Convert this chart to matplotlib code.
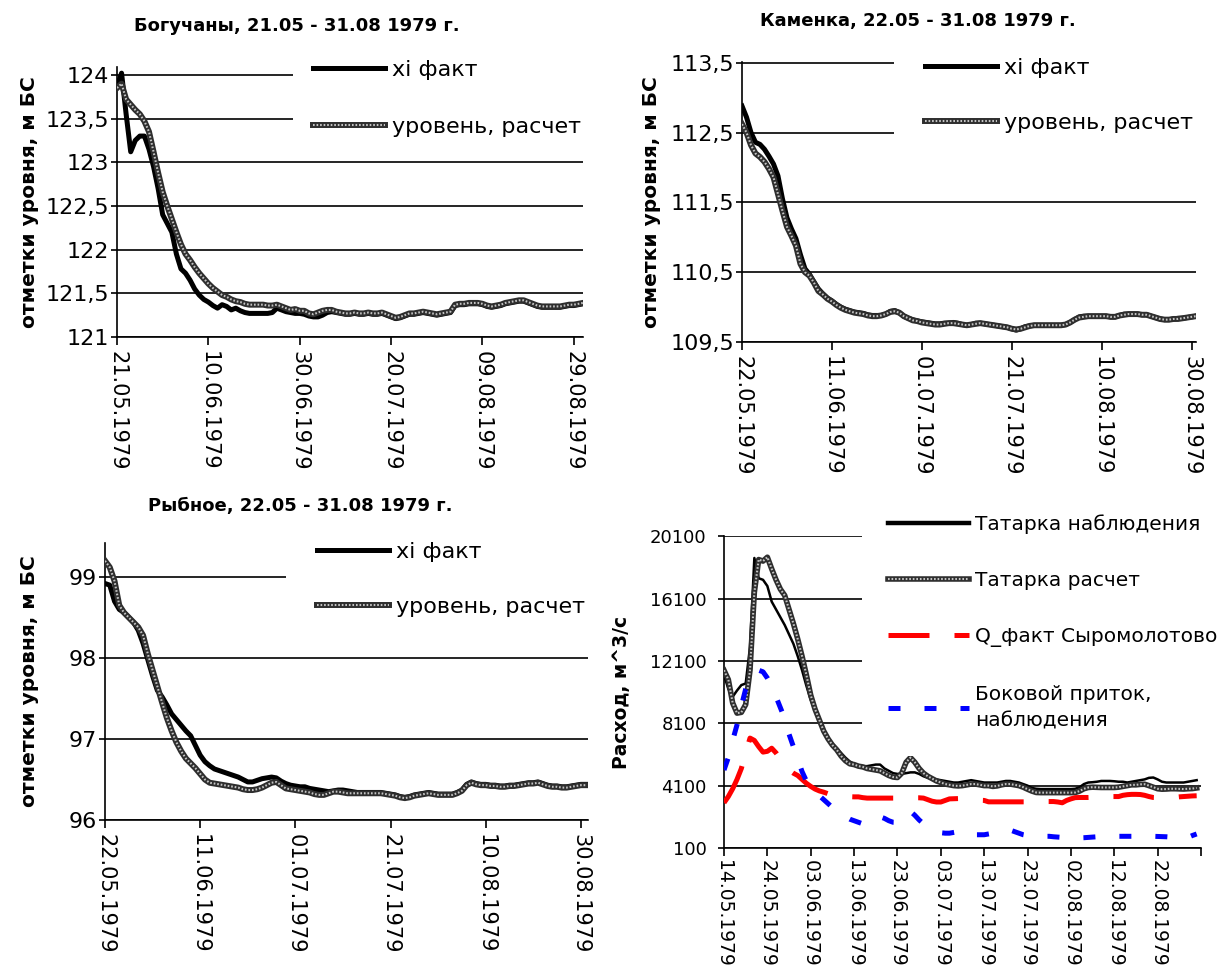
import matplotlib
matplotlib.use("Agg")
import matplotlib.pyplot as plt

plt.rcParams['font.family'] = ['DejaVu Sans']

W, H = 1220, 974

# ---------------- data ----------------
# Богучаны, 21.05 - 31.08.1979 (daily, m BS)
bog_dates = ['21.05.1979', '10.06.1979', '30.06.1979', '20.07.1979', '09.08.1979', '29.08.1979']
bog_yticks = [121, 121.5, 122, 122.5, 123, 123.5, 124]
bog_ylabels = ['121', '121,5', '122', '122,5', '123', '123,5', '124']
bog_fact = [
    123.87, 124.02, 123.55, 123.12, 123.25, 123.30, 123.30, 123.15, 122.95, 122.70,
    122.40, 122.30, 122.20, 121.95, 121.78, 121.73, 121.65, 121.55, 121.48, 121.43,
    121.40, 121.36, 121.33, 121.37, 121.35, 121.31, 121.33, 121.30, 121.28, 121.27,
    121.27, 121.27, 121.27, 121.27, 121.28, 121.33, 121.31, 121.29, 121.28, 121.27,
    121.27, 121.26, 121.24, 121.23, 121.23, 121.25, 121.28, 121.29, 121.28, 121.27,
    121.26, 121.26, 121.27, 121.26, 121.26, 121.27, 121.26, 121.26, 121.27, 121.25,
    121.23, 121.21, 121.22, 121.24, 121.26, 121.26, 121.27, 121.28, 121.27, 121.26,
    121.25, 121.26, 121.27, 121.28, 121.36, 121.37, 121.37, 121.38, 121.38, 121.38,
    121.37, 121.35, 121.34, 121.35, 121.36, 121.38, 121.39, 121.40, 121.41, 121.41,
    121.39, 121.37, 121.35, 121.34, 121.34, 121.34, 121.34, 121.34, 121.35, 121.36,
    121.36, 121.37, 121.38]
bog_calc = [
    123.85, 123.90, 123.72, 123.66, 123.60, 123.55, 123.47, 123.35, 123.12, 122.88,
    122.66, 122.50, 122.35, 122.20, 122.06, 121.95, 121.88, 121.80, 121.73, 121.67,
    121.61, 121.56, 121.52, 121.48, 121.46, 121.43, 121.41, 121.40, 121.38, 121.37,
    121.37, 121.37, 121.37, 121.36, 121.36, 121.37, 121.35, 121.33, 121.31, 121.32,
    121.30, 121.30, 121.27, 121.26, 121.28, 121.30, 121.31, 121.31, 121.29, 121.28,
    121.27, 121.27, 121.28, 121.27, 121.27, 121.28, 121.27, 121.27, 121.28, 121.26,
    121.24, 121.22, 121.23, 121.25, 121.27, 121.27, 121.28, 121.29, 121.28, 121.27,
    121.26, 121.27, 121.28, 121.29, 121.37, 121.38, 121.38, 121.39, 121.39, 121.39,
    121.38, 121.36, 121.35, 121.36, 121.37, 121.39, 121.40, 121.41, 121.42, 121.42,
    121.40, 121.38, 121.36, 121.35, 121.35, 121.35, 121.35, 121.35, 121.36, 121.37,
    121.37, 121.38, 121.39]

# Каменка, 22.05 - 31.08.1979
kam_dates = ['22.05.1979', '11.06.1979', '01.07.1979', '21.07.1979', '10.08.1979', '30.08.1979']
kam_yticks = [109.5, 110.5, 111.5, 112.5, 113.5]
kam_ylabels = ['109,5', '110,5', '111,5', '112,5', '113,5']
kam_fact = [
    112.88, 112.72, 112.50, 112.36, 112.33, 112.26, 112.16, 112.05, 111.88, 111.55,
    111.28, 111.12, 110.98, 110.75, 110.55, 110.47, 110.36, 110.26, 110.19, 110.13,
    110.09, 110.04, 110.00, 109.97, 109.95, 109.93, 109.92, 109.91, 109.89, 109.88,
    109.88, 109.88, 109.90, 109.94, 109.95, 109.92, 109.87, 109.84, 109.82, 109.80,
    109.79, 109.78, 109.77, 109.76, 109.76, 109.77, 109.77, 109.78, 109.77, 109.75,
    109.74, 109.75, 109.77, 109.77, 109.76, 109.75, 109.74, 109.73, 109.72, 109.71,
    109.69, 109.67, 109.69, 109.72, 109.73, 109.74, 109.74, 109.74, 109.74, 109.74,
    109.74, 109.74, 109.75, 109.78, 109.82, 109.86, 109.87, 109.87, 109.87, 109.87,
    109.87, 109.87, 109.86, 109.86, 109.88, 109.90, 109.90, 109.90, 109.90, 109.89,
    109.89, 109.87, 109.85, 109.83, 109.82, 109.82, 109.83, 109.84, 109.84, 109.85,
    109.86, 109.87]
kam_calc = [
    112.62, 112.50, 112.32, 112.20, 112.15, 112.08, 111.98, 111.86, 111.62, 111.38,
    111.15, 111.02, 110.88, 110.62, 110.50, 110.45, 110.35, 110.23, 110.18, 110.12,
    110.08, 110.03, 109.99, 109.96, 109.94, 109.92, 109.91, 109.90, 109.88, 109.87,
    109.87, 109.88, 109.90, 109.93, 109.94, 109.92, 109.87, 109.84, 109.81, 109.80,
    109.78, 109.77, 109.76, 109.75, 109.75, 109.76, 109.77, 109.77, 109.76, 109.75,
    109.74, 109.75, 109.76, 109.77, 109.76, 109.75, 109.74, 109.73, 109.72, 109.71,
    109.69, 109.68, 109.69, 109.71, 109.73, 109.74, 109.74, 109.74, 109.74, 109.74,
    109.74, 109.74, 109.75, 109.78, 109.82, 109.85, 109.86, 109.87, 109.87, 109.87,
    109.87, 109.87, 109.86, 109.86, 109.88, 109.89, 109.90, 109.90, 109.90, 109.89,
    109.89, 109.87, 109.85, 109.83, 109.82, 109.82, 109.83, 109.83, 109.84, 109.85,
    109.86, 109.87]

# Рыбное, 22.05 - 31.08.1979
ryb_dates = ['22.05.1979', '11.06.1979', '01.07.1979', '21.07.1979', '10.08.1979', '30.08.1979']
ryb_yticks = [96, 97, 98, 99]
ryb_ylabels = ['96', '97', '98', '99']
ryb_fact = [
    98.92, 98.90, 98.70, 98.60, 98.56, 98.50, 98.44, 98.34, 98.18, 97.98,
    97.78, 97.60, 97.52, 97.42, 97.31, 97.24, 97.17, 97.10, 97.04, 96.92,
    96.80, 96.72, 96.67, 96.63, 96.61, 96.59, 96.57, 96.55, 96.53, 96.50,
    96.47, 96.47, 96.49, 96.51, 96.52, 96.53, 96.52, 96.48, 96.45, 96.43,
    96.42, 96.41, 96.41, 96.39, 96.38, 96.37, 96.36, 96.35, 96.36, 96.37,
    96.37, 96.36, 96.35, 96.34, 96.34, 96.34, 96.34, 96.34, 96.34, 96.33,
    96.32, 96.31, 96.29, 96.28, 96.29, 96.31, 96.32, 96.33, 96.34, 96.33,
    96.32, 96.32, 96.32, 96.32, 96.34, 96.37, 96.44, 96.47, 96.45, 96.44,
    96.44, 96.43, 96.43, 96.42, 96.42, 96.43, 96.43, 96.44, 96.45, 96.46,
    96.46, 96.47, 96.45, 96.43, 96.42, 96.42, 96.41, 96.41, 96.42, 96.43,
    96.44, 96.44]
ryb_calc = [
    99.20, 99.12, 98.95, 98.65, 98.56, 98.50, 98.44, 98.38, 98.28, 98.05,
    97.85, 97.65, 97.45, 97.26, 97.10, 96.96, 96.85, 96.76, 96.70, 96.64,
    96.57, 96.50, 96.46, 96.45, 96.44, 96.43, 96.42, 96.41, 96.40, 96.38,
    96.37, 96.37, 96.38, 96.40, 96.43, 96.46, 96.47, 96.43, 96.39, 96.38,
    96.37, 96.36, 96.35, 96.34, 96.32, 96.31, 96.31, 96.33, 96.35, 96.35,
    96.34, 96.33, 96.33, 96.33, 96.33, 96.33, 96.33, 96.33, 96.33, 96.32,
    96.31, 96.30, 96.28, 96.27, 96.28, 96.30, 96.31, 96.32, 96.33, 96.32,
    96.31, 96.31, 96.31, 96.31, 96.33, 96.36, 96.43, 96.46, 96.44, 96.43,
    96.43, 96.42, 96.42, 96.41, 96.41, 96.42, 96.42, 96.43, 96.44, 96.45,
    96.45, 96.46, 96.44, 96.42, 96.41, 96.41, 96.40, 96.40, 96.41, 96.42,
    96.43, 96.43]

# Татарка, 14.05 - 31.08.1979, discharge m^3/s
tat_dates = ['14.05.1979', '24.05.1979', '03.06.1979', '13.06.1979', '23.06.1979', '03.07.1979',
             '13.07.1979', '23.07.1979', '02.08.1979', '12.08.1979', '22.08.1979']
tat_yticks = [100, 4100, 8100, 12100, 16100, 20100]
tat_obs = [
    11200, 10300, 9800, 10200, 10550, 10650, 13000, 18700, 17400, 17300,
    16900, 15900, 15400, 14900, 14400, 13800, 13200, 12400, 11500, 10500,
    9600, 8900, 8300, 7700, 7200, 6800, 6500, 6200, 5900, 5650,
    5500, 5400, 5350, 5350, 5400, 5450, 5450, 5200, 5050, 4900,
    4850, 4850, 4900, 4950, 4950, 4850, 4700, 4600, 4550, 4500,
    4450, 4400, 4350, 4300, 4300, 4350, 4400, 4450, 4400, 4350,
    4300, 4300, 4300, 4300, 4350, 4400, 4400, 4350, 4300, 4200,
    4100, 3950, 3900, 3880, 3880, 3880, 3880, 3880, 3880, 3880,
    3880, 3900, 4000, 4200, 4300, 4320, 4350, 4400, 4400, 4400,
    4380, 4350, 4350, 4300, 4350, 4400, 4450, 4500, 4600, 4620,
    4500, 4350, 4300, 4300, 4300, 4300, 4300, 4350, 4400, 4450]
tat_calc = [
    11500, 10900, 9400, 8750, 8800, 9300, 11500, 16500, 18600, 18500,
    18750, 18000, 17300, 16700, 16300, 15400, 14500, 13500, 12400, 11200,
    9900, 9000, 8300, 7600, 7100, 6700, 6400, 6000, 5700, 5500,
    5450, 5350, 5300, 5200, 5150, 5100, 5050, 4900, 4750, 4650,
    4620, 4900, 5600, 5900, 5600, 5200, 4900, 4700, 4550, 4400,
    4300, 4200, 4150, 4100, 4080, 4100, 4150, 4200, 4200, 4150,
    4100, 4100, 4050, 4080, 4150, 4200, 4200, 4150, 4100, 4000,
    3870, 3750, 3660, 3650, 3650, 3650, 3650, 3650, 3650, 3650,
    3650, 3660, 3750, 3900, 3980, 4000, 3990, 3980, 3980, 3980,
    3980, 4000, 4050, 4100, 4150, 4150, 4180, 4190, 4100, 4000,
    3900, 3870, 3880, 3900, 3900, 3890, 3880, 3900, 3910, 3950]
syr_fact = [
    3000, 3400, 3900, 4500, 5200, 6200, 7150, 7000, 6600, 6250,
    6300, 6500, 6200, 5800, 5400, 5100, 4900, 4750, 4500, 4250,
    4050, 3880, 3760, 3680, 3580, 3530, 3480, 3440, 3410, 3390,
    3380, 3380, 3330, 3300, 3300, 3300, 3300, 3300, 3300, 3300,
    3300, 3300, 3300, 3310, 3320, 3320, 3300, 3200, 3100, 3050,
    3050, 3150, 3250, 3260, 3270, 3270, 3250, 3200, 3180, 3160,
    3150, 3060, 3060, 3060, 3060, 3060, 3060, 3060, 3060, 3060,
    3060, 3080, 3080, 3080, 3080, 3080, 3080, 3050, 3000, 3150,
    3250, 3330, 3340, 3340, 3340, 3350, 3350, 3400, 3400, 3400,
    3400, 3400, 3480, 3520, 3540, 3540, 3530, 3480, 3400, 3340,
    3330, 3330, 3350, 3350, 3350, 3380, 3400, 3420, 3440, 3450]
side_inflow = [
    5100, 5900, 7000, 8000, 9200, 10300, 10900, 11300, 11500, 11400,
    11000, 10500, 9800, 9100, 8400, 7400, 6600, 5800, 5000, 4400,
    4000, 3700, 3450, 3200, 2950, 2700, 2500, 2250, 2100, 1950,
    1850, 1750, 1650, 1620, 1800, 2000, 2100, 2000, 1850, 1750,
    1740, 2000, 2300, 2450, 2200, 1900, 1650, 1480, 1350, 1200,
    1080, 1050, 1050, 1100, 1150, 1250, 1150, 1050, 950, 950,
    950, 1000, 1050, 1100, 1200, 1250, 1250, 1150, 1050, 950,
    900, 880, 850, 850, 850, 850, 820, 800, 780, 760,
    750, 750, 750, 760, 780, 800, 820, 840, 850, 850,
    850, 850, 850, 850, 850, 850, 850, 850, 850, 850,
    840, 830, 820, 800, 780, 760, 740, 780, 900, 1000]


# ---------------- helpers ----------------
def px_rect(left, top, right, bottom):
    return [left / W, 1 - bottom / H, (right - left) / W, (bottom - top) / H]


def fig_pt(x, y):
    return (x / W, 1 - y / H)


def calc_line(ax, y, lw=4.3):
    """Excel-like textured grey line: dark body with light dots."""
    x = range(len(y))
    base, = ax.plot(x, y, color='#2e2e2e', lw=lw, solid_joinstyle='round', zorder=3)
    dots, = ax.plot(x, y, color='#c4c4c4', lw=1.5, ls=(0, (0.8, 0.9)), zorder=3)
    return (base, dots)


def style(ax, yticks, ylabels, ysize, dates, step, xmax, ylim, labx, ylabel, ylsize,
          xsize=15, ypad=1.5):
    ax.set_xlim(0, xmax)
    ax.set_ylim(*ylim)
    ax.set_yticks(yticks)
    ax.set_yticklabels(ylabels, fontsize=ysize)
    ax.set_xticks(range(0, step * len(dates), step))
    ax.set_xticklabels(dates, rotation=270, fontsize=xsize)
    ax.yaxis.grid(True, color='black', lw=1.2)
    ax.set_axisbelow(True)
    for s in ('top', 'right'):
        ax.spines[s].set_visible(False)
    for s in ('left', 'bottom'):
        ax.spines[s].set_linewidth(1.2)
    ax.tick_params(axis='x', length=6, width=1.2, pad=4)
    ax.tick_params(axis='y', length=4, width=1.2, pad=ypad)
    ax.set_ylabel(ylabel, fontsize=ylsize, fontweight='bold')
    ax.yaxis.set_label_coords(labx, 0.5)


def legend(ax, handles, labels, x, y, size, spacing, pad, hlen):
    leg = ax.legend(handles, labels, loc='upper left', bbox_to_anchor=fig_pt(x, y),
                    bbox_transform=fig.transFigure, borderaxespad=0, borderpad=pad,
                    labelspacing=spacing, handlelength=hlen, handletextpad=0.3,
                    fancybox=False, framealpha=1, prop={'size': size})
    leg.get_frame().set_facecolor('white')
    leg.get_frame().set_edgecolor('white')
    leg.get_frame().set_linewidth(0)
    return leg


fig = plt.figure(figsize=(W / 100, H / 100), dpi=100)
ylab = 'отметки уровня, м БС'

# --- Богучаны ---
ax1 = fig.add_axes(px_rect(117, 66.6, 583, 337))
l_fact, = ax1.plot(range(len(bog_fact)), bog_fact, color='black', lw=3.6,
                   solid_joinstyle='round', zorder=3)
h_calc = calc_line(ax1, bog_calc)
style(ax1, bog_yticks, bog_ylabels, 16, bog_dates, 20, 102, (121, 124.095),
      -0.167, ylab, 14.5)
legend(ax1, [l_fact, h_calc], ['xi факт', 'уровень, расчет'], 293, 40, 16, 1.67, 0.9, 3.25)
fig.text(*fig_pt(297, 26), 'Богучаны, 21.05 - 31.08 1979 г.', ha='center', va='center',
         fontsize=13, fontweight='bold')

# --- Каменка ---
ax2 = fig.add_axes(px_rect(742, 62, 1196, 342))
l_fact, = ax2.plot(range(len(kam_fact)), kam_fact, color='black', lw=3.6,
                   solid_joinstyle='round', zorder=3)
h_calc = calc_line(ax2, kam_calc)
style(ax2, kam_yticks, kam_ylabels, 16, kam_dates, 20, 101, (109.5, 113.51),
      -0.178, ylab, 14.5)
legend(ax2, [l_fact, h_calc], ['xi факт', 'уровень, расчет'], 894, 27, 16, 1.57, 1.4, 3.25)
fig.text(*fig_pt(918, 21), 'Каменка, 22.05 - 31.08 1979 г.', ha='center', va='center',
         fontsize=13, fontweight='bold')

# --- Рыбное ---
ax3 = fig.add_axes(px_rect(105, 543, 588, 820))
l_fact, = ax3.plot(range(len(ryb_fact)), ryb_fact, color='black', lw=3.6,
                   solid_joinstyle='round', zorder=3)
h_calc = calc_line(ax3, ryb_calc)
style(ax3, ryb_yticks, ryb_ylabels, 16, ryb_dates, 20, 101.5, (96, 99.42),
      -0.137, ylab, 14.5)
legend(ax3, [l_fact, h_calc], ['xi факт', 'уровень, расчет'], 286, 511, 16, 1.57, 1.4, 3.25)
fig.text(*fig_pt(300, 506), 'Рыбное, 22.05 - 31.08 1979 г.', ha='center', va='center',
         fontsize=13, fontweight='bold')

# --- Татарка ---
ax4 = fig.add_axes(px_rect(724, 536, 1201, 848))
x4 = range(len(tat_obs))
l_obs, = ax4.plot(x4, tat_obs, color='black', lw=1.8, solid_joinstyle='round', zorder=3)
h_calc = calc_line(ax4, tat_calc, lw=4.0)
l_syr, = ax4.plot(x4, syr_fact, color='#ff0000', lw=3.6, ls=(0, (8.2, 5.0)), zorder=4)
l_side, = ax4.plot(x4, side_inflow, color='#0000ff', lw=3.6, ls=(0, (2.4, 4.8)), zorder=4)
style(ax4, tat_yticks, [str(v) for v in tat_yticks], 13, tat_dates, 10, 110,
      (100, 20110), -0.195, 'Расход, м^3/с', 13.5, xsize=13.5, ypad=8.5)
ax4.tick_params(axis='x', pad=3)
ax4.set_xticks([110], minor=True)
ax4.tick_params(axis='x', which='minor', length=6, width=1.2)
leg = legend(ax4, [l_obs, h_calc, l_syr, l_side],
             ['Татарка наблюдения', 'Татарка расчет', 'Q_факт Сыромолотово',
              'Боковой приток,\nнаблюдения'], 862, 488, 14.5, 1.85, 1.3, 4.0)
leg.get_texts()[3].set_linespacing(1.5)
leg.get_lines()[0].set_linewidth(3.2)

fig.savefig('out.png', dpi=100)
